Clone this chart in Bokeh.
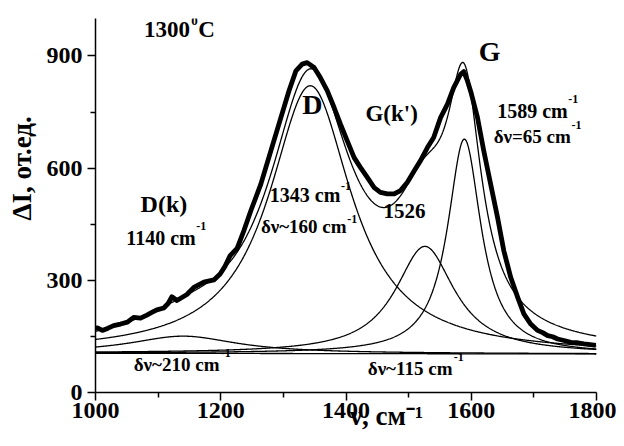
import numpy as np
from bokeh.plotting import figure
from bokeh.models import Range1d, FixedTicker, Label
from bokeh.embed import file_html
from bokeh.resources import INLINE

nu_data = [1000, 1003, 1011, 1020, 1029, 1040, 1051, 1061, 1072, 1082, 1090, 1098, 1109, 1116,
           1122, 1130, 1146, 1157, 1173, 1189, 1199, 1207, 1215, 1226, 1237, 1248, 1264,
           1280, 1296, 1309, 1320, 1330, 1338, 1349, 1359, 1370, 1381, 1391, 1402, 1413,
           1423, 1434, 1445, 1455, 1466, 1477, 1487, 1498, 1509, 1519, 1530, 1540, 1551,
           1562, 1572, 1583, 1588, 1594, 1600, 1610, 1620, 1631, 1642, 1652, 1663, 1674,
           1684, 1695, 1706, 1714, 1722, 1730, 1738, 1748, 1759, 1770, 1780, 1790, 1799]
I_data = [171, 173, 166, 172, 179, 183, 188, 201, 199, 207, 214, 221, 226, 238,
          256, 246, 262, 281, 295, 301, 317, 338, 366, 385, 433, 486, 557,
          646, 735, 807, 860, 878, 882, 869, 842, 807, 762, 718, 673, 628,
          602, 575, 548, 535, 531, 531, 540, 562, 593, 620, 655, 682, 735,
          771, 815, 851, 858, 833, 800, 735, 646, 557, 468, 379, 308, 255,
          210, 183, 166, 160, 152, 149, 143, 139, 134, 133, 130, 128, 126]

# ---- fitted Lorentzian components: D(k), D, G(k'), G ----
peak_centers = [1140, 1343, 1526, 1589]
peak_fwhm = [210, 160, 115, 65]
peak_amps = [46, 716, 287, 574]
base_nu = [1000, 1800]
base_I = [105, 103]

x_ticks = [1000, 1200, 1400, 1600, 1800]
x_minor = [1100, 1300, 1500, 1700]
y_ticks = [0, 300, 600, 900]
y_minor = [150, 450, 750]

nu = np.linspace(1000, 1800, 801)
baseline = np.interp(nu, base_nu, base_I)
comps = []
for c, w, a in zip(peak_centers, peak_fwhm, peak_amps):
    comps.append(a / (1.0 + ((nu - c) / (w / 2.0)) ** 2))
total = baseline + sum(comps)

FONT = "'Liberation Serif'"
NB = "\u00a0"
p = figure(frame_width=501, frame_height=374,
           x_range=Range1d(1000, 1800), y_range=Range1d(0, 1000),
           output_backend="svg", toolbar_location=None,
           min_border_left=95, min_border_right=20, min_border_top=18, min_border_bottom=46,
           background_fill_color="white", border_fill_color="white")
p.outline_line_color = None
p.grid.visible = False

thin = dict(line_color="black", line_width=1.3)
p.line(nu, baseline, **thin)
for comp in comps:
    p.line(nu, baseline + comp, **thin)
p.line(nu, total, **thin)
p.line(nu_data, I_data, line_color="black", line_width=4.8, line_join="round")

p.xaxis.ticker = FixedTicker(ticks=x_ticks, minor_ticks=x_minor)
p.yaxis.ticker = FixedTicker(ticks=y_ticks, minor_ticks=y_minor)
for ax in (p.xaxis[0], p.yaxis[0]):
    ax.axis_line_width = 1.5
    ax.axis_line_color = "black"
    ax.major_tick_line_width = 1.5
    ax.minor_tick_line_width = 1.5
    ax.major_tick_line_color = "black"
    ax.minor_tick_line_color = "black"
    ax.major_tick_out = 8
    ax.major_tick_in = 0
    ax.minor_tick_out = 5
    ax.minor_tick_in = 0
    ax.major_label_text_font = FONT
    ax.major_label_text_font_style = "bold"
    ax.major_label_text_font_size = "24px"
    ax.major_label_text_color = "black"
    ax.axis_label_text_font = FONT
    ax.axis_label_text_font_style = "bold"
    ax.axis_label_text_color = "black"
p.xaxis.major_label_standoff = 2
p.yaxis.major_label_standoff = 5

p.xaxis.axis_label = NB * 12 + "ν, см⁻¹"
p.xaxis.axis_label_text_font_size = "27px"
p.xaxis.axis_label_standoff = -20
p.yaxis.axis_label = NB * 11 + "ΔI, от.ед."
p.yaxis.axis_label_text_font_size = "27px"
p.yaxis.axis_label_standoff = 7

DY = 24  # shift of label baselines (data units)

def lab(x, y, t, size, align="left"):
    p.add_layout(Label(x=x, y=y + DY, text=t, text_font="Liberation Serif", text_font_style="bold",
                       text_font_size=size, text_align=align, text_baseline="alphabetic",
                       text_color="black"))

# temperature
lab(1151, 946, "1300", "23px", "right")
lab(1153, 968, "0", "13px")
lab(1164, 946, "C", "23px")
# peak names
lab(1072, 481, "D(k)", "24px")
lab(1330, 746, "D", "28px")
lab(1431, 722, "G(k')", "23px")
lab(1612, 888, "G", "28px")
# D(k)
lab(1160, 390, "1140 cm", "20px", "right")
lab(1161, 420, "-1", "12px")
lab(1198, 51, "δν~210 cm", "19px", "right")
lab(1200, 81, "-1", "12px")
# D
lab(1391, 505, "1343 cm", "20px", "right")
lab(1392, 527, "-1", "12px")
lab(1401, 420, "δν~160 cm", "19px", "right")
lab(1402, 441, "-1", "12px")
# G(k')
lab(1460, 460, "1526", "21px")
lab(1570, 41, "δν~115 cm", "19px", "right")
lab(1572, 72, "-1", "12px")
# G
lab(1754, 730, "1589 cm", "20px", "right")
lab(1755, 762, "-1", "12px")
lab(1759, 660, "δν=65 cm", "19px", "right")
lab(1760, 692, "-1", "12px")

open("out.html", "w").write(file_html(p, INLINE))
